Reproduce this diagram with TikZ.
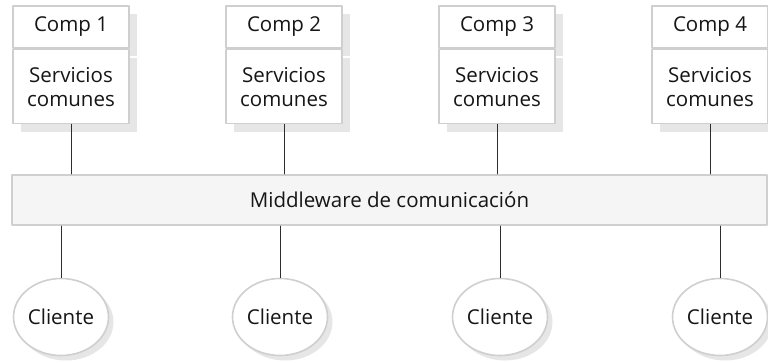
\documentclass[tikz,border=0pt]{standalone}
\usepackage{fontspec}
\setmainfont{Open Sans}
\usetikzlibrary{positioning,shadows,shapes.geometric}

\definecolor{edge}{HTML}{CFCFCF}
\definecolor{shade}{HTML}{E6E6E6}
\definecolor{barfill}{HTML}{F5F5F5}
\definecolor{ink}{HTML}{161616}

\begin{document}
\begin{tikzpicture}[
  x=1pt, y=-1pt,
  line cap=round, line join=round,
  every node/.style={font=\fontsize{20.5}{24}\selectfont, text=ink, inner sep=0pt},
  boxshadow/.style={drop shadow={shadow xshift=8pt, shadow yshift=-8pt, fill=shade, opacity=1}},
  comphead/.style={draw=edge, fill=white, line width=1.6pt, minimum width=116pt, minimum height=42pt, boxshadow},
  compserv/.style={draw=edge, fill=white, line width=1.6pt, minimum width=116pt, minimum height=74pt, align=center, boxshadow},
  bus/.style={draw=edge, fill=barfill, line width=2pt, minimum width=755pt, minimum height=50pt},
  client/.style={ellipse, draw=edge, fill=white, line width=1.6pt, minimum width=95pt, minimum height=77pt,
    drop shadow={shadow xshift=5pt, shadow yshift=-5pt, fill=shade, opacity=1}},
  link/.style={draw=ink!90, line width=0.9pt},
]
\useasboundingbox (0,0) rectangle (768,363);

% componentes
\node[comphead] (comp1) at (71,27) {Comp 1};
\node[compserv, below=0pt of comp1] (serv1) {Servicios\\comunes};
\node[comphead] (comp2) at (284,27) {Comp 2};
\node[compserv, below=0pt of comp2] (serv2) {Servicios\\comunes};
\node[comphead] (comp3) at (497,27) {Comp 3};
\node[compserv, below=0pt of comp3] (serv3) {Servicios\\comunes};
\node[comphead] (comp4) at (710,27) {Comp 4};
\node[compserv, below=0pt of comp4] (serv4) {Servicios\\comunes};

% middleware
\node[bus] (mw) at (389.5,200) {Middleware de comunicación};

% clientes
\node[client] (cli1) at (61,317) {Cliente};
\node[client] (cli2) at (280,317) {Cliente};
\node[client] (cli3) at (500,317) {Cliente};
\node[client] (cli4) at (720,317) {Cliente};

% conexiones
\foreach \i in {1,...,4} {
  \draw[link] (serv\i.south) -- (serv\i.south |- mw.north);
  \draw[link] (cli\i.north) -- (cli\i.north |- mw.south);
}
\end{tikzpicture}
\end{document}
